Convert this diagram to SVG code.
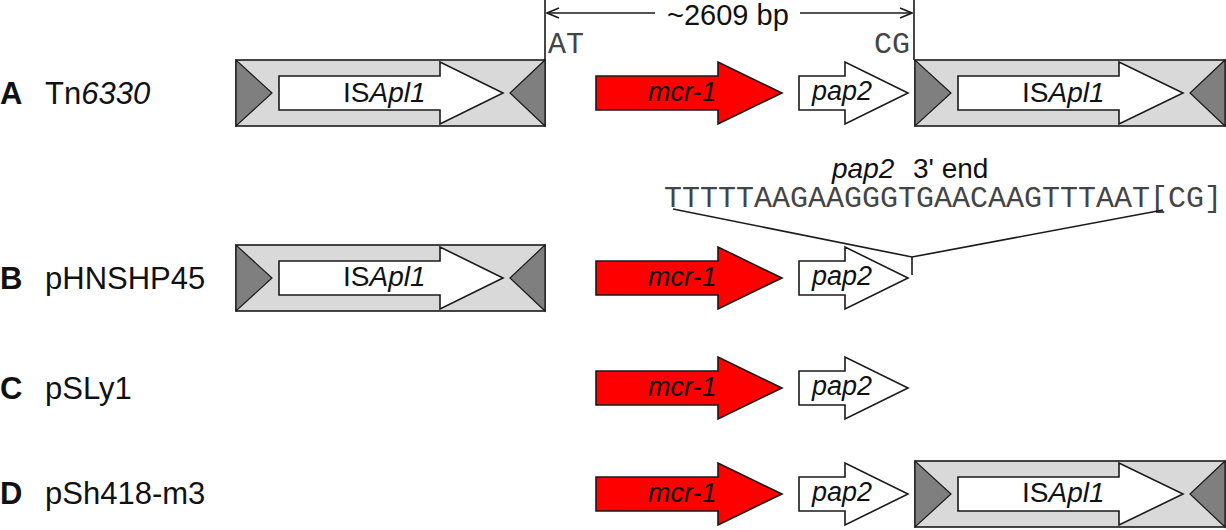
<svg xmlns="http://www.w3.org/2000/svg" width="1226" height="530" viewBox="0 0 1226 530">
<style>
.box{fill:#d9d9d9;stroke:#1a1a1a;stroke-width:1.6}
.tri{fill:#7f7f7f;stroke:#1a1a1a;stroke-width:1.2}
.wa{fill:#fff;stroke:#1a1a1a;stroke-width:1.6}
.red{fill:#ff0000;stroke:#1a1a1a;stroke-width:1.6}
.ln{fill:none;stroke:#1a1a1a;stroke-width:1.6}
.sans{font-family:"Liberation Sans",Arial,sans-serif;fill:#111}
.mono{font-family:"Liberation Mono","Courier New",monospace;fill:#444;font-size:30px}
.lab{font-size:31px}
.gene{font-size:27px;font-style:italic}
.is{font-size:28px}
.it{font-style:italic}
</style>
<defs>
<marker id="ah" viewBox="0 0 14 12" refX="13" refY="6" markerWidth="14" markerHeight="12" markerUnits="userSpaceOnUse" orient="auto-start-reverse">
<path d="M1,1 L13,6 L1,11" fill="none" stroke="#1a1a1a" stroke-width="1.6"/>
</marker>
</defs>

<!-- Row labels -->
<g id="label-A"><text class="sans lab" x="0" y="104" font-weight="bold">A</text><text class="sans lab" x="45" y="104">Tn<tspan class="it">6330</tspan></text></g>
<g id="label-B"><text class="sans lab" x="0" y="289" font-weight="bold">B</text><text class="sans lab" x="45" y="289">pHNSHP45</text></g>
<g id="label-C"><text class="sans lab" x="0" y="399" font-weight="bold">C</text><text class="sans lab" x="45" y="399">pSLy1</text></g>
<g id="label-D"><text class="sans lab" x="0" y="504" font-weight="bold">D</text><text class="sans lab" x="45" y="504">pSh418-m3</text></g>

<!-- Row A -->
<g id="A-ISApl1-left">
<rect class="box" x="236" y="60" width="309" height="66"/>
<polygon class="tri" points="236,60 236,126 272,93"/>
<polygon class="tri" points="545,60 545,126 510,93"/>
<polygon class="wa" points="279,76 440,76 440,62 503,93 440,124 440,110 279,110"/>
<text class="sans is" x="343" y="102">IS<tspan class="it">Apl1</tspan></text>
</g>
<g id="A-mcr1">
<polygon class="red" points="596,76 718,76 718,62 782,93 718,124 718,110 596,110"/>
<text class="sans gene" x="648" y="101">mcr-1</text>
</g>
<g id="A-pap2">
<polygon class="wa" points="799,76 845,76 845,62 908,93 845,124 845,110 799,110"/>
<text class="sans gene" x="812" y="100">pap2</text>
</g>
<g id="A-ISApl1-right">
<rect class="box" x="915" y="60" width="310" height="66"/>
<polygon class="tri" points="915,60 915,126 951,93"/>
<polygon class="tri" points="1225,60 1225,126 1190,93"/>
<polygon class="wa" points="958,76 1119,76 1119,62 1183,93 1119,124 1119,110 958,110"/>
<text class="sans is" x="1022" y="102">IS<tspan class="it">Apl1</tspan></text>
</g>

<!-- Dimension -->
<g id="dimension">
<line class="ln" x1="545" y1="0" x2="545" y2="60"/>
<line class="ln" x1="914" y1="0" x2="914" y2="60"/>
<line class="ln" x1="655" y1="13" x2="547" y2="13" marker-end="url(#ah)"/>
<line class="ln" x1="800" y1="13" x2="912" y2="13" marker-end="url(#ah)"/>
<text class="sans" x="667" y="25" font-size="29">~2609 bp</text>
<text class="mono" x="548" y="53">AT</text>
<text class="mono" x="874" y="53">CG</text>
</g>

<!-- Sequence detail -->
<g id="pap2-3end">
<text class="sans" x="832" y="178" font-size="28"><tspan class="it">pap2</tspan></text>
<text class="sans" x="913" y="178" font-size="28">3' end</text>
<text class="mono" x="664" y="207">TTTTTAAGAAGGGTGAACAAGTTTAAT[CG]</text>
</g>

<!-- Row B -->
<g id="B-ISApl1">
<rect class="box" x="236" y="245" width="309" height="66"/>
<polygon class="tri" points="236,245 236,311 272,278"/>
<polygon class="tri" points="545,245 545,311 510,278"/>
<polygon class="wa" points="279,261 440,261 440,247 503,278 440,309 440,295 279,295"/>
<text class="sans is" x="343" y="286">IS<tspan class="it">Apl1</tspan></text>
</g>
<g id="B-mcr1">
<polygon class="red" points="596,261 718,261 718,247 782,278 718,309 718,295 596,295"/>
<text class="sans gene" x="648" y="286">mcr-1</text>
</g>
<g id="B-pap2">
<polygon class="wa" points="799,261 845,261 845,247 908,278 845,309 845,295 799,295"/>
<text class="sans gene" x="812" y="285">pap2</text>
</g>

<!-- Row C -->
<g id="C-mcr1">
<polygon class="red" points="596,371 718,371 718,357 782,388 718,419 718,405 596,405"/>
<text class="sans gene" x="648" y="396">mcr-1</text>
</g>
<g id="C-pap2">
<polygon class="wa" points="799,371 845,371 845,357 908,388 845,419 845,405 799,405"/>
<text class="sans gene" x="812" y="395">pap2</text>
</g>

<!-- Row D -->
<g id="D-mcr1">
<polygon class="red" points="596,477 718,477 718,463 782,494 718,525 718,511 596,511"/>
<text class="sans gene" x="648" y="502">mcr-1</text>
</g>
<g id="D-pap2">
<polygon class="wa" points="799,477 845,477 845,463 908,494 845,525 845,511 799,511"/>
<text class="sans gene" x="812" y="501">pap2</text>
</g>
<g id="D-ISApl1">
<rect class="box" x="915" y="461" width="310" height="66"/>
<polygon class="tri" points="915,461 915,527 951,494"/>
<polygon class="tri" points="1225,461 1225,527 1190,494"/>
<polygon class="wa" points="958,477 1119,477 1119,463 1183,494 1119,525 1119,511 958,511"/>
<text class="sans is" x="1022" y="502">IS<tspan class="it">Apl1</tspan></text>
</g>

<!-- Connectors -->
<g id="connectors">
<polyline class="ln" points="673,209 912,257 1163,210"/>
<line class="ln" x1="912" y1="257" x2="912" y2="275"/>
</g>
</svg>
